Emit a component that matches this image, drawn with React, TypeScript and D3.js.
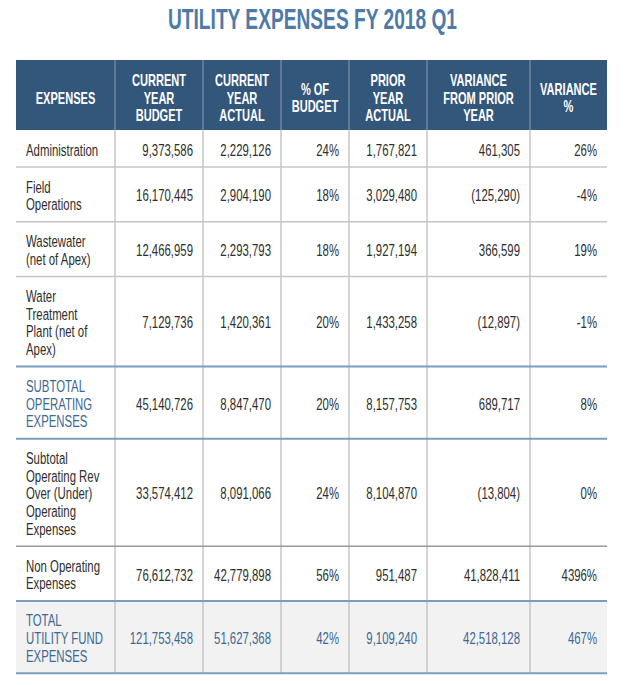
import React from "react";
import * as d3 from "d3";

const title = "UTILITY EXPENSES FY 2018 Q1";
const headers = [
  "EXPENSES",
  "CURRENT\nYEAR\nBUDGET",
  "CURRENT\nYEAR\nACTUAL",
  "% OF\nBUDGET",
  "PRIOR\nYEAR\nACTUAL",
  "VARIANCE\nFROM PRIOR\nYEAR",
  "VARIANCE\n%",
];
const categories = [
  "Administration",
  "Field\nOperations",
  "Wastewater\n(net of Apex)",
  "Water\nTreatment\nPlant (net of\nApex)",
  "SUBTOTAL\nOPERATING\nEXPENSES",
  "Subtotal\nOperating Rev\nOver (Under)\nOperating\nExpenses",
  "Non Operating\nExpenses",
  "TOTAL\nUTILITY FUND\nEXPENSES",
];
const rowKinds = ["normal", "normal", "normal", "normal", "subtotal", "normal", "normal", "total"];
const currentBudget = [9373586, 16170445, 12466959, 7129736, 45140726, 33574412, 76612732, 121753458];
const currentActual = [2229126, 2904190, 2293793, 1420361, 8847470, 8091066, 42779898, 51627368];
const pctOfBudget = [24, 18, 18, 20, 20, 24, 56, 42];
const priorActual = [1767821, 3029480, 1927194, 1433258, 8157753, 8104870, 951487, 9109240];
const varianceFromPrior = [461305, -125290, 366599, -12897, 689717, -13804, 41828411, 42518128];
const variancePct = [26, -4, 19, -1, 8, 0, 4396, 467];

const W = 625;
const H = 685;
const colEdges = [16, 115, 203, 281, 349, 427, 530, 607];
const headerTop = 60;
const headerH = 70;
const lineH = 17.6;
const rowPad = 19.5;

const BLUE_DARK = "#33567b";
const BLUE_TEXT = "#3e6893";
const TITLE = "#4d7aa6";
const BLUE_LINE = "#7d9cbd";
const GRAY_LINE = "#c6c6c6";
const TEXT = "#2e2e2e";
const FONT = "'Liberation Sans', Arial, sans-serif";
const BODY_SIZE = 17;
const BODY_SX = 0.67;
const HEAD_SIZE = 16.5;
const HEAD_SX = 0.67;

const fmtNum = d3.format(",");
const num = (v: number) => (v < 0 ? `(${fmtNum(-v)})` : fmtNum(v));
const pct = (v: number) => `${v}%`;

export default function App() {
  const rowHeights = categories.map((c) => c.split("\n").length * lineH + rowPad);
  const rowTops: number[] = [];
  let acc = headerTop + headerH;
  rowHeights.forEach((h) => {
    rowTops.push(acc);
    acc += h;
  });
  const tableBottom = acc;

  const x = d3.scaleOrdinal<number, number>().domain(d3.range(colEdges.length)).range(colEdges);

  const columns: { vals: number[]; f: (v: number) => string }[] = [
    { vals: currentBudget, f: num },
    { vals: currentActual, f: num },
    { vals: pctOfBudget, f: pct },
    { vals: priorActual, f: num },
    { vals: varianceFromPrior, f: num },
    { vals: variancePct, f: pct },
  ];

  const isBlue = (k: string) => k === "subtotal" || k === "total";

  return (
    <svg width={W} height={H} style={{ display: "block", position: "absolute", left: 0, top: 0 }}>
      <rect width={W} height={H} fill="#ffffff" />
      <text
        x={W / 2}
        y={28.5}
        textAnchor="middle"
        fontFamily={FONT}
        fontWeight="bold"
        fontSize={29}
        fill={TITLE}
        textLength={289}
        lengthAdjust="spacingAndGlyphs"
      >
        {title}
      </text>

      {/* header */}
      <rect x={x(0)} y={headerTop} width={x(7) - x(0)} height={headerH} fill={BLUE_DARK} />
      {colEdges.slice(1, -1).map((cx, i) => (
        <line key={"hv" + i} x1={cx} x2={cx} y1={headerTop} y2={headerTop + headerH} stroke="#6f87a2" strokeWidth={1.5} />
      ))}
      {headers.map((h, i) => {
        const lines = h.split("\n");
        const cx = (x(i) + x(i + 1)) / 2;
        const cy = headerTop + headerH / 2;
        const lh = 17.5;
        return lines.map((ln, j) => (
          <text
            key={"h" + i + "-" + j}
            transform={`translate(${cx},${cy + (j - (lines.length - 1) / 2) * lh + 8.5}) scale(${HEAD_SX},1)`}
            textAnchor="middle"
            fontFamily={FONT}
            fontWeight="bold"
            fontSize={HEAD_SIZE}
            fill="#ffffff"
          >
            {ln}
          </text>
        ));
      })}

      {/* row backgrounds */}
      {categories.map((c, i) =>
        rowKinds[i] === "total" ? (
          <rect key={"bg" + i} x={x(0)} y={rowTops[i]} width={x(7) - x(0)} height={rowHeights[i]} fill="#f2f2f2" />
        ) : null
      )}

      {/* vertical lines body */}
      {colEdges.slice(1, -1).map((cx, i) => (
        <line key={"bv" + i} x1={cx} x2={cx} y1={headerTop + headerH} y2={tableBottom} stroke={GRAY_LINE} strokeWidth={1.5} />
      ))}

      {/* horizontal lines */}
      {categories.map((c, i) => {
        if (i === 0) return null;
        const blue = isBlue(rowKinds[i]) || isBlue(rowKinds[i - 1]);
        const stroke = blue ? BLUE_LINE : i === 6 ? "#9a9a9a" : GRAY_LINE;
        return <line key={"hl" + i} x1={x(0)} x2={x(7)} y1={rowTops[i]} y2={rowTops[i]} stroke={stroke} strokeWidth={blue ? 2 : 1.5} />;
      })}
      <line x1={x(0)} x2={x(7)} y1={tableBottom} y2={tableBottom} stroke={BLUE_LINE} strokeWidth={2} />

      {/* labels */}
      {categories.map((c, i) => {
        const lines = c.split("\n");
        const cy = rowTops[i] + rowHeights[i] / 2;
        const fill = isBlue(rowKinds[i]) ? BLUE_TEXT : TEXT;
        return lines.map((ln, j) => (
          <text
            key={"l" + i + "-" + j}
            transform={`translate(${x(0) + 10},${cy + (j - (lines.length - 1) / 2) * lineH + 7}) scale(${BODY_SX},1)`}
            fontFamily={FONT}
            fontSize={BODY_SIZE}
            fill={fill}
          >
            {ln}
          </text>
        ));
      })}

      {/* values */}
      {columns.map((col, ci) =>
        col.vals.map((v, ri) => {
          const cy = rowTops[ri] + rowHeights[ri] / 2;
          const fill = rowKinds[ri] === "total" ? BLUE_TEXT : TEXT;
          return (
            <text
              key={"v" + ci + "-" + ri}
              transform={`translate(${x(ci + 2) - 10},${cy + 7}) scale(${BODY_SX},1)`}
              textAnchor="end"
              fontFamily={FONT}
              fontSize={BODY_SIZE}
              fill={fill}
            >
              {col.f(v)}
            </text>
          );
        })
      )}
    </svg>
  );
}
